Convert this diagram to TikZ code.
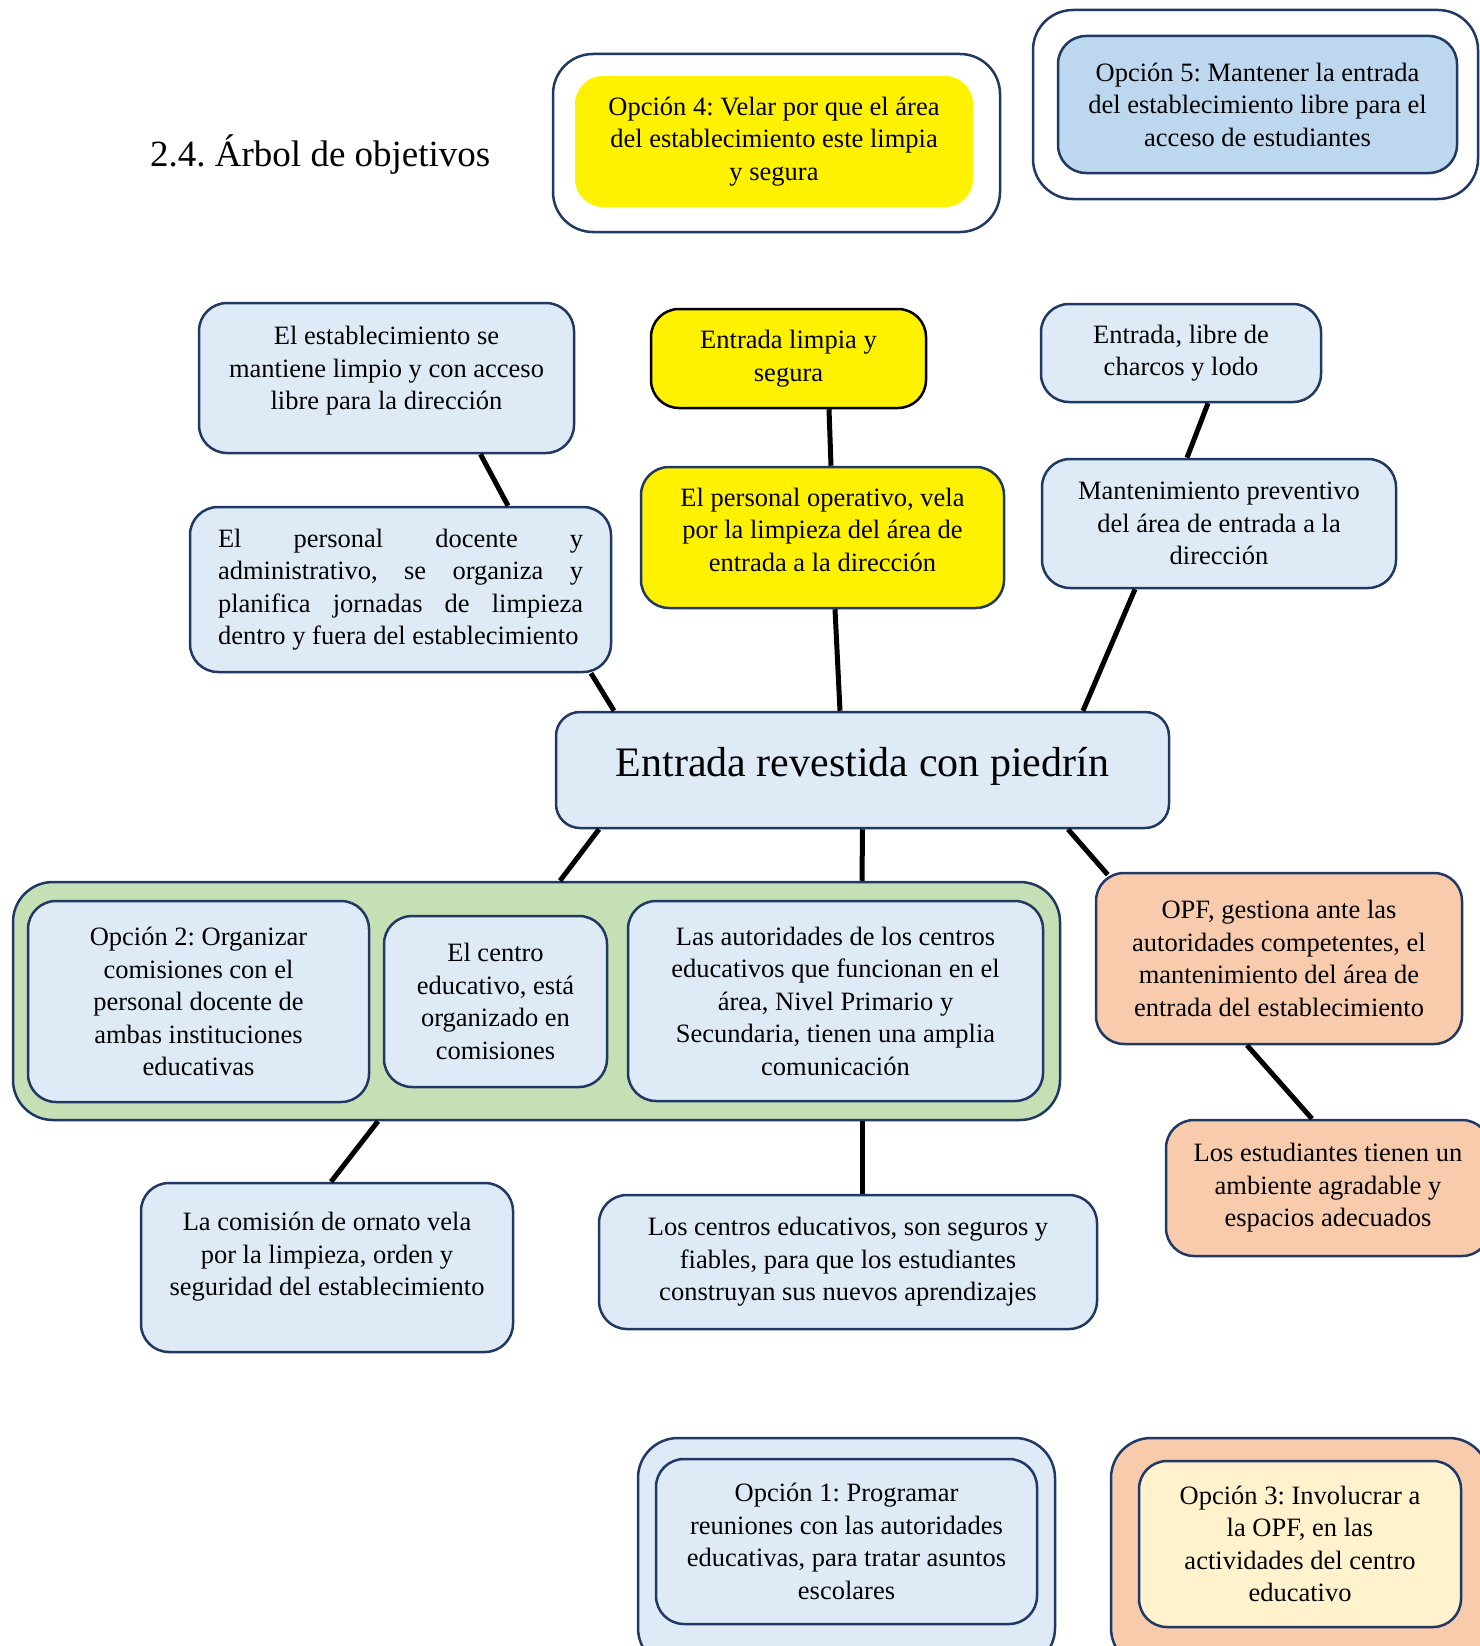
\documentclass[tikz,border=0pt]{standalone}
\usepackage{fontspec}
\setmainfont{Liberation Serif}
\frenchspacing

\definecolor{navy}{HTML}{1F3864}
\definecolor{lightblue}{HTML}{DEEBF7}
\definecolor{midblue}{HTML}{BDD7EE}
\definecolor{leafgreen}{HTML}{C5E0B4}
\definecolor{salmon}{HTML}{F8CBAD}
\definecolor{cream}{HTML}{FFF2CC}

\begin{document}
\begin{tikzpicture}[x=1pt, y=-1pt,
      every node/.style = {shape=rectangle, rounded corners=28pt,
        align=center, inner sep=0pt,
        font=\fontsize{26.5}{32.5}\selectfont},
      goal/.style = {draw=navy, line width=2.5pt, fill=lightblue},
      yellowgoal/.style = {draw=black, line width=2.5pt, fill=yellow},
      salmongoal/.style = {draw=navy, line width=2.5pt, fill=salmon},
      frame/.style = {draw=navy, line width=2.5pt, rounded corners=40pt},
      link/.style = {line width=5pt}]
  \clip (0,0) rectangle (1480,1646);

  % options on top
  \node[frame, fill=white, minimum width=447, minimum height=178] (opt4frame) at (776.5,143) {};
  \node[fill=yellow, minimum width=398, minimum height=131] (opt4) at (774,141.5)
    {Opción 4: Velar por que el área\\del establecimiento este limpia\\y segura};
  \node[frame, fill=white, minimum width=445, minimum height=189] (opt5frame) at (1255.5,104.5) {};
  \node[goal, fill=midblue, minimum width=399, minimum height=137] (opt5) at (1257.5,104.5)
    {Opción 5: Mantener la entrada\\del establecimiento libre para el\\acceso de estudiantes};
  \node[anchor=base west, font=\fontsize{37}{40}\selectfont] (title) at (150,166)
    {2.4. Árbol de objetivos};

  % ends
  \node[goal, minimum width=375, minimum height=150] (estab) at (386.5,378)
    {El establecimiento se\\mantiene limpio y con acceso\\libre para la dirección\\[-13pt]\mbox{}};
  \node[yellowgoal, minimum width=275, minimum height=99] (entlimp) at (788.5,358.5)
    {Entrada limpia y\\segura};
  \node[goal, minimum width=280, minimum height=98] (entlibre) at (1181,353)
    {Entrada, libre de\\charcos y lodo};

  % means
  \node[goal, minimum width=421, minimum height=165, align=left] (docente) at (400.5,589.5)
    {\makebox[365pt][s]{El personal docente y}\\
     \makebox[365pt][s]{administrativo, se organiza y}\\
     \makebox[365pt][s]{planifica jornadas de limpieza}\\
     \makebox[365pt][l]{dentro y fuera del establecimiento}};
  \node[yellowgoal, draw=navy, minimum width=363, minimum height=141] (operativo) at (822.5,537.5)
    {El personal operativo, vela\\por la limpieza del área de\\entrada a la dirección\\[-17pt]\mbox{}};
  \node[goal, minimum width=354, minimum height=129] (manten) at (1219,523.5)
    {Mantenimiento preventivo\\del área de entrada a la\\dirección};

  % main objective
  \node[goal, rounded corners=24pt, minimum width=613, minimum height=116,
        font=\fontsize{42}{46}\selectfont] (central) at (862.5,770)
    {Entrada revestida con piedrín\\[-29pt]\mbox{}};

  % lower level
  \node[frame, fill=leafgreen, minimum width=1047, minimum height=238] (group) at (536.5,1001) {};
  \node[goal, minimum width=341, minimum height=201] (opc2) at (198.5,1001.5)
    {Opción 2: Organizar\\comisiones con el\\personal docente de\\ambas instituciones\\educativas};
  \node[goal, minimum width=223, minimum height=171] (centro) at (495.5,1001.5)
    {El centro\\educativo, está\\organizado en\\comisiones};
  \node[goal, minimum width=415, minimum height=200] (autor) at (835.5,1001)
    {Las autoridades de los centros\\educativos que funcionan en el\\área, Nivel Primario y\\Secundaria, tienen una amplia\\comunicación};
  \node[salmongoal, minimum width=366, minimum height=171] (opf) at (1279,958.5)
    {OPF, gestiona ante las\\autoridades competentes, el\\mantenimiento del área de\\entrada del establecimiento};
  \node[salmongoal, minimum width=324, minimum height=136] (estud) at (1328,1188)
    {Los estudiantes tienen un\\ambiente agradable y\\espacios adecuados};
  \node[goal, minimum width=372, minimum height=169] (ornato) at (327,1267.5)
    {La comisión de ornato vela\\por la limpieza, orden y\\seguridad del establecimiento\\[-6pt]\mbox{}};
  \node[goal, minimum width=498, minimum height=134] (seguros) at (848,1262)
    {Los centros educativos, son seguros y\\fiables, para que los estudiantes\\construyan sus nuevos aprendizajes};

  % options at the bottom
  \node[frame, fill=lightblue, minimum width=417, minimum height=230] (opt1frame) at (846.5,1553) {};
  \node[goal, minimum width=381, minimum height=165] (opt1) at (846.5,1541.5)
    {Opción 1: Programar\\reuniones con las autoridades\\educativas, para tratar asuntos\\escolares};
  \node[frame, fill=salmon, minimum width=378, minimum height=230] (opt3frame) at (1300,1553) {};
  \node[goal, fill=cream, minimum width=322, minimum height=166] (opt3) at (1300,1544)
    {Opción 3: Involucrar a\\la OPF, en las\\actividades del centro\\educativo};

  % connectors
  \draw[link] ([xshift=94]estab.south) -- ([xshift=107.5]docente.north);
  \draw[link] ([xshift=190.5]docente.south) -- ([xshift=-248.5]central.north);
  \draw[link] ([xshift=40.5]entlimp.south) -- ([xshift=8.5]operativo.north);
  \draw[link] ([xshift=12.5]operativo.south) -- ([xshift=-22.5]central.north);
  \draw[link] ([xshift=27]entlibre.south) -- ([xshift=-32]manten.north);
  \draw[link] ([xshift=-84]manten.south) -- ([xshift=220.5]central.north);
  \draw[link] ([xshift=-263.5]central.south) -- ([xshift=23.5]group.north);
  \draw[link] (central.south) -- ([xshift=325.5]group.north);
  \draw[link] ([xshift=205.5]central.south) -- ([xshift=13,yshift=-3]opf.north west);
  \draw[link] ([xshift=-32]opf.south) -- ([xshift=-16]estud.north);
  \draw[link] ([xshift=-158.5]group.south) -- ([xshift=4]ornato.north);
  \draw[link] ([xshift=325.5]group.south) -- ([xshift=14]seguros.north);
\end{tikzpicture}
\end{document}
